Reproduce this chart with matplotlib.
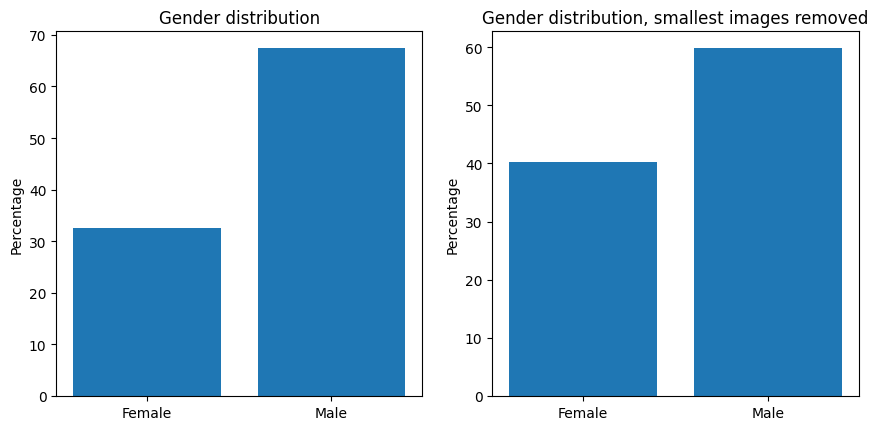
import matplotlib
matplotlib.use('Agg')
from matplotlib import pyplot as plt

# gender share (percent)
genders = ['Female', 'Male']
pct_all = [32.6, 67.4]
pct_filtered = [40.2, 59.8]

fig = plt.figure(figsize=(8.79, 4.31), dpi=100)
ax1 = fig.add_axes([0.064, 0.079, 0.416, 0.847])
ax2 = fig.add_axes([0.560, 0.079, 0.417, 0.847])

ax1.bar(genders, pct_all)
ax1.set_title('Gender distribution')
ax1.set_ylabel('Percentage')

ax2.bar(genders, pct_filtered)
ax2.set_title('Gender distribution, smallest images removed')
ax2.set_ylabel('Percentage')

plt.savefig('out.png')
